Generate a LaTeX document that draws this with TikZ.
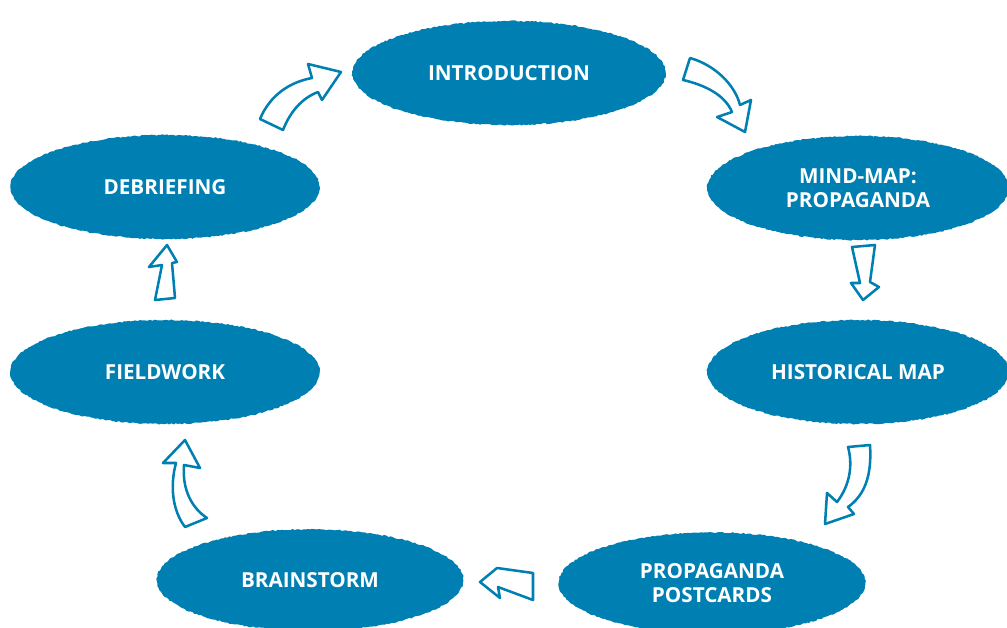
\documentclass[tikz,border=0pt]{standalone}
\usepackage{fontspec}
\setmainfont{Open Sans}
\usetikzlibrary{shapes.geometric,decorations.pathmorphing}
\definecolor{blob}{HTML}{0080B2}
\begin{document}
\begin{tikzpicture}[x=0.75pt,y=-0.75pt,
  stage/.style={ellipse, fill=blob, text=white, font=\bfseries\fontsize{15.5}{18}\selectfont,
    align=center, inner sep=0pt, minimum width=232pt, minimum height=78pt,
    decorate, decoration={random steps, segment length=1.6pt, amplitude=0.5pt}},
  harrow/.style={draw=blob, fill=white, line width=1.9pt, line join=round}]
\useasboundingbox (0,0) rectangle (1007,628);
\node[stage, minimum width=235pt] (intro) at (509,73) {INTRODUCTION};
\node[stage] (debrief) at (165,187) {DEBRIEFING};
\node[stage, minimum width=226pt] (mind) at (858,188) {MIND-MAP:\\PROPAGANDA};
\node[stage] (field) at (165,372) {FIELDWORK};
\node[stage, minimum width=226pt] (hist) at (858,372) {HISTORICAL MAP};
\node[stage, minimum width=230pt, minimum height=76pt] (brain) at (310,580) {BRAINSTORM};
\node[stage, minimum width=230pt, minimum height=76pt] (post) at (712,583) {PROPAGANDA\\POSTCARDS};
% arrows
\draw[harrow] (260,119) .. controls (270,95) and (290,82) .. (312,78) -- (308,64) -- (341,72) -- (322,100) -- (318,92)
  .. controls (302,98) and (290,112) .. (283,130) -- cycle;
\draw[harrow] (690,58) .. controls (715,65) and (735,85) .. (740,105) -- (751,100) -- (745,132) -- (717,117) -- (732,112)
  .. controls (725,95) and (705,85) .. (683,80) -- cycle;
\draw[harrow] (852,247) -- (875,245) -- (870,282) -- (879,287) -- (863,300) -- (851,283) -- (860,283) -- cycle;
\draw[harrow] (848,447) -- (870,445) .. controls (872,475) and (865,495) .. (848,507) -- (854,514) -- (825,524) -- (827,493) -- (837,502)
  .. controls (850,485) and (853,465) .. (848,447) -- cycle;
\draw[harrow] (480,582) -- (497,568) -- (533,573) -- (533,600) -- (498,587) -- (500,598) -- cycle;
\draw[harrow] (185,440) -- (200,468) -- (184,465) .. controls (182,490) and (192,508) .. (207,518) -- (185,527)
  .. controls (172,510) and (170,485) .. (176,463) -- (163,463) -- cycle;
\draw[harrow] (167,245) -- (177,262) -- (172,263) -- (175,298) -- (155,300) -- (162,265) -- (149,267) -- cycle;
\end{tikzpicture}
\end{document}
